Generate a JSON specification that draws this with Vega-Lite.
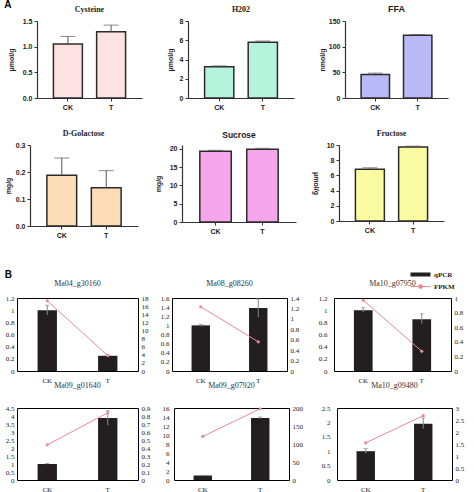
{
  "$schema": "https://vega.github.io/schema/vega-lite/v6.json",
  "padding": {"left": 4, "top": 0, "right": 0, "bottom": 0},
  "title": {"text": "A", "anchor": "start", "font": "Liberation Sans", "fontSize": 10, "fontWeight": "bold", "offset": -5, "color": "#000"},
  "datasets": {
    "A": [
      {"panel": "Cysteine", "group": "CK", "mean": 1.05, "hi": 1.2},
      {"panel": "Cysteine", "group": "T", "mean": 1.29, "hi": 1.42},
      {"panel": "H202", "group": "CK", "mean": 3.25, "hi": 3.33},
      {"panel": "H202", "group": "T", "mean": 5.78, "hi": 5.92},
      {"panel": "FFA", "group": "CK", "mean": 46, "hi": 48.5},
      {"panel": "FFA", "group": "T", "mean": 122, "hi": 123.5},
      {"panel": "D-Golactose", "group": "CK", "mean": 0.188, "hi": 0.252},
      {"panel": "D-Golactose", "group": "T", "mean": 0.142, "hi": 0.205},
      {"panel": "Sucrose", "group": "CK", "mean": 19.3, "hi": 19.55},
      {"panel": "Sucrose", "group": "T", "mean": 19.85, "hi": 20.1},
      {"panel": "Fructose", "group": "CK", "mean": 6.8, "hi": 7.0},
      {"panel": "Fructose", "group": "T", "mean": 9.75, "hi": 9.85}
    ],
    "B": [
      {"gene": "Ma04_g30160", "group": "CK", "qpcr": 1.0, "lo": 0.92, "hi": 1.08, "fpkm": 17.3},
      {"gene": "Ma04_g30160", "group": "T", "qpcr": 0.25, "lo": 0.24, "hi": 0.26, "fpkm": 3.8},
      {"gene": "Ma08_g08260", "group": "CK", "qpcr": 1.0, "lo": 0.98, "hi": 1.02, "fpkm": 1.23},
      {"gene": "Ma08_g08260", "group": "T", "qpcr": 1.38, "lo": 1.18, "hi": 1.58, "fpkm": 0.56},
      {"gene": "Ma10_g07950", "group": "CK", "qpcr": 1.0, "lo": 0.97, "hi": 1.04, "fpkm": 0.97},
      {"gene": "Ma10_g07950", "group": "T", "qpcr": 0.85, "lo": 0.78, "hi": 0.94, "fpkm": 0.27},
      {"gene": "Ma09_g01640", "group": "CK", "qpcr": 1.0, "lo": 0.98, "hi": 1.03, "fpkm": 0.44},
      {"gene": "Ma09_g01640", "group": "T", "qpcr": 3.88, "lo": 3.43, "hi": 4.33, "fpkm": 0.84},
      {"gene": "Ma09_g07920", "group": "CK", "qpcr": 1.0, "lo": 0.97, "hi": 1.03, "fpkm": 121},
      {"gene": "Ma09_g07920", "group": "T", "qpcr": 13.8, "lo": 13.6, "hi": 14.0, "fpkm": 198},
      {"gene": "Ma10_g09480", "group": "CK", "qpcr": 1.0, "lo": 0.93, "hi": 1.09, "fpkm": 1.55},
      {"gene": "Ma10_g09480", "group": "T", "qpcr": 1.95, "lo": 1.78, "hi": 2.15, "fpkm": 2.68}
    ]
  },
  "spacing": 31,
  "vconcat": [
    {
      "spacing": 20,
      "vconcat": [
        {
          "spacing": 24,
          "hconcat": [
            {
              "width": 125, "height": 77,
              "title": {"text": "Cysteine", "font": "Liberation Serif", "offset": 3, "anchor": "middle", "dx": 10},
              "data": {"name": "A"},
              "transform": [{"filter": "datum.panel == 'Cysteine'"}],
              "encoding": {"x": {"field": "group", "type": "nominal", "title": null, "scale": {"range": [20, 125], "paddingInner": 0.33, "paddingOuter": 0.38}, "axis": {"labelAngle": 0, "domainWidth": 1.2}}},
              "layer": [
                {"mark": {"type": "bar", "fill": "#fde2e2", "stroke": "#2b2b2b", "strokeWidth": 1.5}, "encoding": {"y": {"field": "mean", "type": "quantitative", "title": "μmol/g", "scale": {"domain": [0, 1.5], "nice": false}, "axis": {"values": [0, 0.5, 1, 1.5], "tickCount": 20, "format": ".1f", "titlePadding": 8, "domainWidth": 1.2, "offset": -20}}}},
                {"mark": {"type": "rule", "color": "#555"}, "encoding": {"y": {"field": "mean", "type": "quantitative"}, "y2": {"field": "hi"}}},
                {"mark": {"type": "tick", "orient": "horizontal", "size": 15, "thickness": 1, "color": "#555"}, "encoding": {"y": {"field": "hi", "type": "quantitative"}}}
              ]
            },
            {
              "width": 106, "height": 77,
              "title": {"text": "H202", "font": "Liberation Serif", "offset": 3},
              "data": {"name": "A"},
              "transform": [{"filter": "datum.panel == 'H202'"}],
              "encoding": {"x": {"field": "group", "type": "nominal", "title": null, "scale": {"paddingInner": 0.33, "paddingOuter": 0.38}, "axis": {"labelAngle": 0, "domainWidth": 1.2}}},
              "layer": [
                {"mark": {"type": "bar", "fill": "#b5f3dd", "stroke": "#2b2b2b", "strokeWidth": 1.5}, "encoding": {"y": {"field": "mean", "type": "quantitative", "title": "μmol/g", "scale": {"domain": [0, 8], "nice": false}, "axis": {"values": [0, 2, 4, 6, 8], "tickCount": 20, "format": "d", "titlePadding": 6, "domainWidth": 1.2}}}},
                {"mark": {"type": "rule", "color": "#555"}, "encoding": {"y": {"field": "mean", "type": "quantitative"}, "y2": {"field": "hi"}}},
                {"mark": {"type": "tick", "orient": "horizontal", "size": 15, "thickness": 1, "color": "#555"}, "encoding": {"y": {"field": "hi", "type": "quantitative"}}}
              ]
            },
            {
              "width": 103, "height": 77,
              "title": {"text": "FFA", "font": "Liberation Sans", "fontSize": 9, "offset": 3},
              "data": {"name": "A"},
              "transform": [{"filter": "datum.panel == 'FFA'"}],
              "encoding": {"x": {"field": "group", "type": "nominal", "title": null, "scale": {"paddingInner": 0.33, "paddingOuter": 0.38}, "axis": {"labelAngle": 0, "domainWidth": 1.2}}},
              "layer": [
                {"mark": {"type": "bar", "fill": "#b9b9f7", "stroke": "#2b2b2b", "strokeWidth": 1.5}, "encoding": {"y": {"field": "mean", "type": "quantitative", "title": "nmol/g", "scale": {"domain": [0, 150], "nice": false}, "axis": {"values": [0, 50, 100, 150], "tickCount": 20, "format": "d", "titlePadding": 3, "domainWidth": 1.2}}}},
                {"mark": {"type": "rule", "color": "#555"}, "encoding": {"y": {"field": "mean", "type": "quantitative"}, "y2": {"field": "hi"}}},
                {"mark": {"type": "tick", "orient": "horizontal", "size": 15, "thickness": 1, "color": "#555"}, "encoding": {"y": {"field": "hi", "type": "quantitative"}}}
              ]
            }
          ]
        },
        {
          "spacing": 16,
          "hconcat": [
            {
              "width": 121, "height": 81,
              "title": {"text": "D-Golactose", "font": "Liberation Serif", "offset": 3, "anchor": "middle", "dx": 6},
              "data": {"name": "A"},
              "transform": [{"filter": "datum.panel == 'D-Golactose'"}],
              "encoding": {"x": {"field": "group", "type": "nominal", "title": null, "scale": {"range": [13, 121], "paddingInner": 0.33, "paddingOuter": 0.38}, "axis": {"labelAngle": 0, "domainWidth": 1.2}}},
              "layer": [
                {"mark": {"type": "bar", "fill": "#fcdcb6", "stroke": "#2b2b2b", "strokeWidth": 1.5}, "encoding": {"y": {"field": "mean", "type": "quantitative", "title": "mg/g", "scale": {"domain": [0, 0.3], "nice": false}, "axis": {"values": [0, 0.1, 0.2, 0.3], "tickCount": 20, "format": ".1f", "titlePadding": 4, "domainWidth": 1.2, "offset": -13}}}},
                {"mark": {"type": "rule", "color": "#555"}, "encoding": {"y": {"field": "mean", "type": "quantitative"}, "y2": {"field": "hi"}}},
                {"mark": {"type": "tick", "orient": "horizontal", "size": 15, "thickness": 1, "color": "#555"}, "encoding": {"y": {"field": "hi", "type": "quantitative"}}}
              ]
            },
            {
              "width": 114, "height": 77,
              "title": {"text": "Sucrose", "font": "Liberation Sans", "fontSize": 8.5, "offset": 5},
              "data": {"name": "A"},
              "transform": [{"filter": "datum.panel == 'Sucrose'"}],
              "encoding": {"x": {"field": "group", "type": "nominal", "title": null, "scale": {"paddingInner": 0.33, "paddingOuter": 0.38}, "axis": {"labelAngle": 0, "domainWidth": 1.2}}},
              "layer": [
                {"mark": {"type": "bar", "fill": "#f5a6ea", "stroke": "#2b2b2b", "strokeWidth": 1.5}, "encoding": {"y": {"field": "mean", "type": "quantitative", "title": "mg/g", "scale": {"domain": [0, 21], "nice": false}, "axis": {"values": [0, 5, 10, 15, 20], "tickCount": 20, "format": "d", "titlePadding": 8, "domainWidth": 1.2}}}},
                {"mark": {"type": "rule", "color": "#555"}, "encoding": {"y": {"field": "mean", "type": "quantitative"}, "y2": {"field": "hi"}}},
                {"mark": {"type": "tick", "orient": "horizontal", "size": 15, "thickness": 1, "color": "#555"}, "encoding": {"y": {"field": "hi", "type": "quantitative"}}}
              ]
            },
            {
              "width": 105, "height": 76,
              "title": {"text": "Fructose", "font": "Liberation Serif", "offset": 3},
              "data": {"name": "A"},
              "transform": [{"filter": "datum.panel == 'Fructose'"}],
              "encoding": {"x": {"field": "group", "type": "nominal", "title": null, "scale": {"paddingInner": 0.33, "paddingOuter": 0.38}, "axis": {"labelAngle": 0, "domainWidth": 1.2}}},
              "layer": [
                {"mark": {"type": "bar", "fill": "#fafaa0", "stroke": "#2b2b2b", "strokeWidth": 1.5}, "encoding": {"y": {"field": "mean", "type": "quantitative", "title": "μmol/g", "scale": {"domain": [0, 10], "nice": false}, "axis": {"values": [0, 2, 4, 6, 8, 10], "tickCount": 20, "format": "d", "titlePadding": 14, "titleAngle": 90, "domainWidth": 1.2}}}},
                {"mark": {"type": "rule", "color": "#555"}, "encoding": {"y": {"field": "mean", "type": "quantitative"}, "y2": {"field": "hi"}}},
                {"mark": {"type": "tick", "orient": "horizontal", "size": 15, "thickness": 1, "color": "#555"}, "encoding": {"y": {"field": "hi", "type": "quantitative"}}}
              ]
            }
          ]
        }
      ]
    },
    {
      "title": {"text": "B", "anchor": "start", "font": "Liberation Sans", "fontSize": 10, "fontWeight": "bold", "offset": 0, "color": "#000"},
      "spacing": -3,
      "vconcat": [
        {
          "spacing": 10,
          "hconcat": [
            {
              "width": 121, "height": 73,
              "view": {"stroke": "#000"},
              "title": {"text": "Ma04_g30160", "font": "Liberation Serif", "fontWeight": "normal", "offset": 6, "color": "#333"},
              "data": {"name": "B"},
              "transform": [{"filter": "datum.gene == 'Ma04_g30160'"}],
              "encoding": {"x": {"field": "group", "type": "nominal", "title": null, "scale": {"paddingInner": 0.68, "paddingOuter": 0.34}, "axis": {"labelAngle": 0, "domain": false, "ticks": false, "labelFont": "Liberation Serif", "labelFontWeight": "normal", "labelPadding": 5}}},
              "layer": [
                {"layer": [
                  {"mark": {"type": "bar", "color": "#231f20"}, "encoding": {"y": {"field": "qpcr", "type": "quantitative", "title": null, "scale": {"domain": [0, 1.2], "nice": false}, "axis": {"values": [0, 0.2, 0.4, 0.6, 0.8, 1, 1.2], "tickCount": 20, "format": ".2~f", "domain": false, "ticks": false, "labelFont": "Liberation Serif", "labelFontWeight": "normal", "labelPadding": 3}}}},
                  {"mark": {"type": "rule", "color": "#888"}, "encoding": {"y": {"field": "lo", "type": "quantitative", "title": null}, "y2": {"field": "hi"}}},
                  {"mark": {"type": "tick", "orient": "horizontal", "size": 4, "thickness": 1, "color": "#888"}, "encoding": {"y": {"field": "hi", "type": "quantitative", "title": null}}}
                ]},
                {"layer": [
                  {"mark": {"type": "line", "color": "#e98b92", "strokeWidth": 1}, "encoding": {"y": {"field": "fpkm", "type": "quantitative", "title": null, "scale": {"domain": [0, 18], "nice": false}, "axis": {"orient": "right", "values": [0, 2, 4, 6, 8, 10, 12, 14, 16, 18], "tickCount": 20, "format": ".2~f", "domain": false, "ticks": false, "labelFont": "Liberation Serif", "labelFontWeight": "normal", "labelPadding": 3}}}},
                  {"mark": {"type": "point", "shape": "circle", "filled": true, "size": 10, "color": "#e98b92", "opacity": 1}, "encoding": {"y": {"field": "fpkm", "type": "quantitative", "title": null}}}
                ]}
              ],
              "resolve": {"scale": {"y": "independent"}}
            },
            {
              "width": 115, "height": 73,
              "view": {"stroke": "#000"},
              "title": {"text": "Ma08_g08260", "font": "Liberation Serif", "fontWeight": "normal", "offset": 6, "color": "#333"},
              "data": {"name": "B"},
              "transform": [{"filter": "datum.gene == 'Ma08_g08260'"}],
              "encoding": {"x": {"field": "group", "type": "nominal", "title": null, "scale": {"paddingInner": 0.68, "paddingOuter": 0.34}, "axis": {"labelAngle": 0, "domain": false, "ticks": false, "labelFont": "Liberation Serif", "labelFontWeight": "normal", "labelPadding": 5}}},
              "layer": [
                {"layer": [
                  {"mark": {"type": "bar", "color": "#231f20"}, "encoding": {"y": {"field": "qpcr", "type": "quantitative", "title": null, "scale": {"domain": [0, 1.6], "nice": false}, "axis": {"values": [0, 0.2, 0.4, 0.6, 0.8, 1, 1.2, 1.4, 1.6], "tickCount": 20, "format": ".2~f", "domain": false, "ticks": false, "labelFont": "Liberation Serif", "labelFontWeight": "normal", "labelPadding": 3}}}},
                  {"mark": {"type": "rule", "color": "#888"}, "encoding": {"y": {"field": "lo", "type": "quantitative", "title": null}, "y2": {"field": "hi"}}},
                  {"mark": {"type": "tick", "orient": "horizontal", "size": 4, "thickness": 1, "color": "#888"}, "encoding": {"y": {"field": "hi", "type": "quantitative", "title": null}}}
                ]},
                {"layer": [
                  {"mark": {"type": "line", "color": "#e98b92", "strokeWidth": 1}, "encoding": {"y": {"field": "fpkm", "type": "quantitative", "title": null, "scale": {"domain": [0, 1.4], "nice": false}, "axis": {"orient": "right", "values": [0, 0.2, 0.4, 0.6, 0.8, 1, 1.2, 1.4], "tickCount": 20, "format": ".2~f", "domain": false, "ticks": false, "labelFont": "Liberation Serif", "labelFontWeight": "normal", "labelPadding": 3}}}},
                  {"mark": {"type": "point", "shape": "circle", "filled": true, "size": 10, "color": "#e98b92", "opacity": 1}, "encoding": {"y": {"field": "fpkm", "type": "quantitative", "title": null}}}
                ]}
              ],
              "resolve": {"scale": {"y": "independent"}}
            },
            {
              "width": 117, "height": 73,
              "view": {"stroke": "#000"},
              "title": {"text": "Ma10_g07950", "font": "Liberation Serif", "fontWeight": "normal", "offset": 6, "color": "#333"},
              "data": {"name": "B"},
              "transform": [{"filter": "datum.gene == 'Ma10_g07950'"}],
              "encoding": {"x": {"field": "group", "type": "nominal", "title": null, "scale": {"paddingInner": 0.68, "paddingOuter": 0.34}, "axis": {"labelAngle": 0, "domain": false, "ticks": false, "labelFont": "Liberation Serif", "labelFontWeight": "normal", "labelPadding": 5}}},
              "layer": [
                {"layer": [
                  {"mark": {"type": "bar"}, "encoding": {
                    "y": {"field": "qpcr", "type": "quantitative", "title": " ", "scale": {"domain": [0, 1.2], "nice": false}, "axis": {"values": [0, 0.2, 0.4, 0.6, 0.8, 1, 1.2], "tickCount": 20, "format": ".2~f", "domain": false, "ticks": false, "labelFont": "Liberation Serif", "labelFontWeight": "normal", "labelPadding": 7, "titleFontSize": 1, "titlePadding": 6}},
                    "color": {"datum": "qPCR", "scale": {"domain": ["qPCR", "FPKM"], "range": ["#231f20", "#e98b92"]}, "legend": {"orient": "none", "legendX": 400, "legendY": 250, "title": null, "symbolType": "stroke", "symbolSize": 100, "labelFont": "Liberation Serif", "labelFontSize": 7, "labelFontWeight": "bold", "labelColor": "#222", "rowPadding": -3, "labelOffset": 10, "encode": {"symbols": {"update": {"shape": {"signal": "datum.value === 'qPCR' ? 'M-2,0H2' : 'M-2,0H2M0.4,0A0.4,0.4,0,1,1,-0.4,0A0.4,0.4,0,1,1,0.4,0'"}, "strokeWidth": {"signal": "datum.value === 'qPCR' ? 4 : 1"}, "fill": {"signal": "datum.value === 'qPCR' ? 'transparent' : '#f4c0c4'"}, "stroke": {"signal": "datum.value === 'qPCR' ? '#231f20' : '#e98b92'"}, "opacity": {"value": 1}}}}}}
                  }},
                  {"mark": {"type": "rule", "color": "#888"}, "encoding": {"y": {"field": "lo", "type": "quantitative", "title": " "}, "y2": {"field": "hi"}}},
                  {"mark": {"type": "tick", "orient": "horizontal", "size": 4, "thickness": 1, "color": "#888"}, "encoding": {"y": {"field": "hi", "type": "quantitative", "title": " "}}}
                ]},
                {"layer": [
                  {"mark": {"type": "line", "strokeWidth": 1}, "encoding": {"y": {"field": "fpkm", "type": "quantitative", "title": null, "scale": {"domain": [0, 1], "nice": false}, "axis": {"orient": "right", "values": [0, 0.2, 0.4, 0.6, 0.8, 1], "tickCount": 20, "format": ".2~f", "domain": false, "ticks": false, "labelFont": "Liberation Serif", "labelFontWeight": "normal", "labelPadding": 3}}, "color": {"datum": "FPKM"}}},
                  {"mark": {"type": "point", "shape": "circle", "filled": true, "size": 10, "opacity": 1}, "encoding": {"y": {"field": "fpkm", "type": "quantitative", "title": null}, "color": {"datum": "FPKM"}}}
                ]}
              ],
              "resolve": {"scale": {"y": "independent"}}
            }
          ]
        },
        {
          "spacing": 10,
          "hconcat": [
            {
              "width": 121, "height": 72,
              "view": {"stroke": "#000"},
              "title": {"text": "Ma09_g01640", "font": "Liberation Serif", "fontWeight": "normal", "offset": 14, "color": "#333"},
              "data": {"name": "B"},
              "transform": [{"filter": "datum.gene == 'Ma09_g01640'"}],
              "encoding": {"x": {"field": "group", "type": "nominal", "title": null, "scale": {"paddingInner": 0.68, "paddingOuter": 0.34}, "axis": {"labelAngle": 0, "domain": false, "ticks": false, "labelFont": "Liberation Serif", "labelFontWeight": "normal", "labelPadding": 5}}},
              "layer": [
                {"layer": [
                  {"mark": {"type": "bar", "color": "#231f20"}, "encoding": {"y": {"field": "qpcr", "type": "quantitative", "title": null, "scale": {"domain": [0, 4.5], "nice": false}, "axis": {"values": [0, 0.5, 1, 1.5, 2, 2.5, 3, 3.5, 4, 4.5], "tickCount": 20, "format": ".2~f", "domain": false, "ticks": false, "labelFont": "Liberation Serif", "labelFontWeight": "normal", "labelPadding": 3}}}},
                  {"mark": {"type": "rule", "color": "#888"}, "encoding": {"y": {"field": "lo", "type": "quantitative", "title": null}, "y2": {"field": "hi"}}},
                  {"mark": {"type": "tick", "orient": "horizontal", "size": 4, "thickness": 1, "color": "#888"}, "encoding": {"y": {"field": "hi", "type": "quantitative", "title": null}}}
                ]},
                {"layer": [
                  {"mark": {"type": "line", "color": "#e98b92", "strokeWidth": 1}, "encoding": {"y": {"field": "fpkm", "type": "quantitative", "title": null, "scale": {"domain": [0, 0.9], "nice": false}, "axis": {"orient": "right", "values": [0, 0.1, 0.2, 0.3, 0.4, 0.5, 0.6, 0.7, 0.8, 0.9], "tickCount": 20, "format": ".2~f", "domain": false, "ticks": false, "labelFont": "Liberation Serif", "labelFontWeight": "normal", "labelPadding": 3}}}},
                  {"mark": {"type": "point", "shape": "circle", "filled": true, "size": 10, "color": "#e98b92", "opacity": 1}, "encoding": {"y": {"field": "fpkm", "type": "quantitative", "title": null}}}
                ]}
              ],
              "resolve": {"scale": {"y": "independent"}}
            },
            {
              "width": 115, "height": 72,
              "view": {"stroke": "#000"},
              "title": {"text": "Ma09_g07920", "font": "Liberation Serif", "fontWeight": "normal", "offset": 14, "color": "#333"},
              "data": {"name": "B"},
              "transform": [{"filter": "datum.gene == 'Ma09_g07920'"}],
              "encoding": {"x": {"field": "group", "type": "nominal", "title": null, "scale": {"paddingInner": 0.68, "paddingOuter": 0.34}, "axis": {"labelAngle": 0, "domain": false, "ticks": false, "labelFont": "Liberation Serif", "labelFontWeight": "normal", "labelPadding": 5}}},
              "layer": [
                {"layer": [
                  {"mark": {"type": "bar", "color": "#231f20"}, "encoding": {"y": {"field": "qpcr", "type": "quantitative", "title": null, "scale": {"domain": [0, 16], "nice": false}, "axis": {"values": [0, 2, 4, 6, 8, 10, 12, 14, 16], "tickCount": 20, "format": ".2~f", "domain": false, "ticks": false, "labelFont": "Liberation Serif", "labelFontWeight": "normal", "labelPadding": 5}}}},
                  {"mark": {"type": "rule", "color": "#888"}, "encoding": {"y": {"field": "lo", "type": "quantitative", "title": null}, "y2": {"field": "hi"}}},
                  {"mark": {"type": "tick", "orient": "horizontal", "size": 4, "thickness": 1, "color": "#888"}, "encoding": {"y": {"field": "hi", "type": "quantitative", "title": null}}}
                ]},
                {"layer": [
                  {"mark": {"type": "line", "color": "#e98b92", "strokeWidth": 1}, "encoding": {"y": {"field": "fpkm", "type": "quantitative", "title": null, "scale": {"domain": [0, 200], "nice": false}, "axis": {"orient": "right", "values": [0, 50, 100, 150, 200], "tickCount": 20, "format": ".2~f", "domain": false, "ticks": false, "labelFont": "Liberation Serif", "labelFontWeight": "normal", "labelPadding": 3}}}},
                  {"mark": {"type": "point", "shape": "circle", "filled": true, "size": 10, "color": "#e98b92", "opacity": 1}, "encoding": {"y": {"field": "fpkm", "type": "quantitative", "title": null}}}
                ]}
              ],
              "resolve": {"scale": {"y": "independent"}}
            },
            {
              "width": 115, "height": 72,
              "view": {"stroke": "#000"},
              "title": {"text": "Ma10_g09480", "font": "Liberation Serif", "fontWeight": "normal", "offset": 14, "color": "#333"},
              "data": {"name": "B"},
              "transform": [{"filter": "datum.gene == 'Ma10_g09480'"}],
              "encoding": {"x": {"field": "group", "type": "nominal", "title": null, "scale": {"paddingInner": 0.68, "paddingOuter": 0.34}, "axis": {"labelAngle": 0, "domain": false, "ticks": false, "labelFont": "Liberation Serif", "labelFontWeight": "normal", "labelPadding": 5}}},
              "layer": [
                {"layer": [
                  {"mark": {"type": "bar", "color": "#231f20"}, "encoding": {"y": {"field": "qpcr", "type": "quantitative", "title": " ", "scale": {"domain": [0, 2.5], "nice": false}, "axis": {"values": [0, 0.5, 1, 1.5, 2, 2.5], "tickCount": 20, "format": ".2~f", "domain": false, "ticks": false, "labelFont": "Liberation Serif", "labelFontWeight": "normal", "labelPadding": 7, "titleFontSize": 1, "titlePadding": 6}}}},
                  {"mark": {"type": "rule", "color": "#888"}, "encoding": {"y": {"field": "lo", "type": "quantitative", "title": " "}, "y2": {"field": "hi"}}},
                  {"mark": {"type": "tick", "orient": "horizontal", "size": 4, "thickness": 1, "color": "#888"}, "encoding": {"y": {"field": "hi", "type": "quantitative", "title": " "}}}
                ]},
                {"layer": [
                  {"mark": {"type": "line", "color": "#e98b92", "strokeWidth": 1}, "encoding": {"y": {"field": "fpkm", "type": "quantitative", "title": null, "scale": {"domain": [0, 3], "nice": false}, "axis": {"orient": "right", "values": [0, 0.5, 1, 1.5, 2, 2.5, 3], "tickCount": 20, "format": ".2~f", "domain": false, "ticks": false, "labelFont": "Liberation Serif", "labelFontWeight": "normal", "labelPadding": 3}}}},
                  {"mark": {"type": "point", "shape": "circle", "filled": true, "size": 10, "color": "#e98b92", "opacity": 1}, "encoding": {"y": {"field": "fpkm", "type": "quantitative", "title": null}}}
                ]}
              ],
              "resolve": {"scale": {"y": "independent"}}
            }
          ]
        }
      ]
    }
  ],
  "config": {
    "view": {"stroke": null},
    "background": "#ffffff",
    "title": {"font": "Liberation Serif", "fontSize": 8, "fontWeight": "bold", "offset": 8, "color": "#222"},
    "axis": {"grid": false, "labelOverlap": false, "domainColor": "#333", "tickColor": "#333", "labelColor": "#222", "titleColor": "#222", "labelFont": "Liberation Sans", "labelFontWeight": "bold", "labelFontSize": 7, "titleFont": "Liberation Sans", "titleFontWeight": "bold", "titleFontSize": 7, "tickSize": 3, "labelPadding": 2}
  }
}
